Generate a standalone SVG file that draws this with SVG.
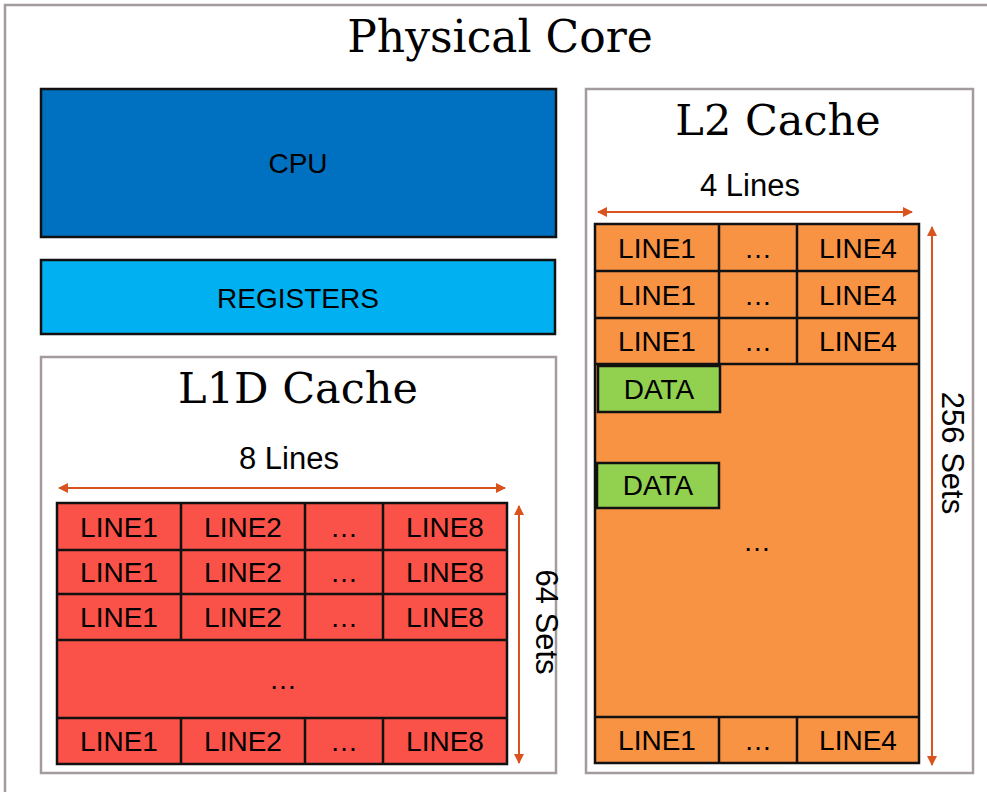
<svg xmlns="http://www.w3.org/2000/svg" width="987" height="792" viewBox="0 0 987 792">
<style>
.frame{fill:#fff;stroke:#A39B9B;stroke-width:2.5}
.box{stroke:#111;stroke-width:2.5}
.cell{stroke:#111;stroke-width:2.5}
.red{fill:#FA5248}
.org{fill:#F89344}
.grn{fill:#92D050}
.title{font-family:"DejaVu Serif","Liberation Serif",serif;font-size:43px;fill:#000;text-anchor:middle}
.t{font-family:"Liberation Sans",Arial,sans-serif;font-size:28px;fill:#000;text-anchor:middle}
.lbl{font-family:"Liberation Sans",Arial,sans-serif;font-size:31px;fill:#000;text-anchor:middle}
.arr{stroke:#D9531E;stroke-width:2;fill:none;marker-start:url(#ah);marker-end:url(#ah)}
</style>
<defs>
<marker id="ah" viewBox="0 0 10 10" refX="9" refY="5" markerWidth="6" markerHeight="5" orient="auto-start-reverse" markerUnits="strokeWidth">
<path d="M0,0 L10,5 L0,10 z" fill="#D9531E"/>
</marker>
</defs>

<g id="physical-core">
<rect class="frame" x="5" y="5" width="1010" height="810"/>
<text class="title" x="500" y="52" style="font-size:44px">Physical Core</text>
</g>

<g id="cpu">
<rect class="box" x="41" y="89" width="515" height="148" fill="#0070C0"/>
<text class="t" x="298" y="173">CPU</text>
</g>

<g id="registers">
<rect class="box" x="41" y="260" width="514" height="74" fill="#00B0F0"/>
<text class="t" x="298" y="308">REGISTERS</text>
</g>

<g id="l1d-cache">
<rect class="frame" x="41" y="357" width="515" height="416"/>
<text class="title" x="298" y="403">L1D Cache</text>
<text class="lbl" x="289" y="469">8 Lines</text>
<g id="l1d-grid">
<rect class="cell red" x="57" y="503" width="450" height="261"/>
<g class="cell" fill="none">
<line x1="57" y1="550" x2="507" y2="550"/>
<line x1="57" y1="594" x2="507" y2="594"/>
<line x1="57" y1="640" x2="507" y2="640"/>
<line x1="57" y1="718" x2="507" y2="718"/>
<line x1="181" y1="503" x2="181" y2="640"/>
<line x1="305" y1="503" x2="305" y2="640"/>
<line x1="383" y1="503" x2="383" y2="640"/>
<line x1="181" y1="718" x2="181" y2="764"/>
<line x1="305" y1="718" x2="305" y2="764"/>
<line x1="383" y1="718" x2="383" y2="764"/>
</g>
<text class="t" x="119" y="537">LINE1</text><text class="t" x="243" y="537">LINE2</text><text class="t" x="344" y="537">…</text><text class="t" x="445" y="537">LINE8</text>
<text class="t" x="119" y="582">LINE1</text><text class="t" x="243" y="582">LINE2</text><text class="t" x="344" y="582">…</text><text class="t" x="445" y="582">LINE8</text>
<text class="t" x="119" y="627">LINE1</text><text class="t" x="243" y="627">LINE2</text><text class="t" x="344" y="627">…</text><text class="t" x="445" y="627">LINE8</text>
<text class="t" x="283" y="689">…</text>
<text class="t" x="119" y="751">LINE1</text><text class="t" x="243" y="751">LINE2</text><text class="t" x="344" y="751">…</text><text class="t" x="445" y="751">LINE8</text>
</g>
<text class="lbl" transform="translate(536,622) rotate(90)">64 Sets</text>
</g>

<g id="l2-cache">
<rect class="frame" x="586" y="89" width="387" height="684"/>
<text class="title" x="778" y="135">L2 Cache</text>
<text class="lbl" x="750" y="196">4 Lines</text>
<g id="l2-grid">
<rect class="cell org" x="595" y="224" width="324" height="539"/>
<g class="cell" fill="none">
<line x1="595" y1="271" x2="919" y2="271"/>
<line x1="595" y1="318" x2="919" y2="318"/>
<line x1="595" y1="364" x2="919" y2="364"/>
<line x1="595" y1="717" x2="919" y2="717"/>
<line x1="719" y1="224" x2="719" y2="364"/>
<line x1="797" y1="224" x2="797" y2="364"/>
<line x1="719" y1="717" x2="719" y2="763"/>
<line x1="797" y1="717" x2="797" y2="763"/>
</g>
<text class="t" x="657" y="258">LINE1</text><text class="t" x="758" y="258">…</text><text class="t" x="858" y="258">LINE4</text>
<text class="t" x="657" y="305">LINE1</text><text class="t" x="758" y="305">…</text><text class="t" x="858" y="305">LINE4</text>
<text class="t" x="657" y="351">LINE1</text><text class="t" x="758" y="351">…</text><text class="t" x="858" y="351">LINE4</text>
<text class="t" x="757" y="551">…</text>
<text class="t" x="657" y="750">LINE1</text><text class="t" x="758" y="750">…</text><text class="t" x="858" y="750">LINE4</text>
</g>
<g id="data-1">
<rect class="cell grn" x="598" y="366" width="122" height="46"/>
<text class="t" x="659" y="399">DATA</text>
</g>
<g id="data-2">
<rect class="cell grn" x="597" y="463" width="122" height="45"/>
<text class="t" x="658" y="495">DATA</text>
</g>
<text class="lbl" transform="translate(942,453) rotate(90)">256 Sets</text>
</g>

<g id="connectors">
<line class="arr" x1="59" y1="488" x2="505" y2="488"/>
<line class="arr" x1="519" y1="506" x2="519" y2="763"/>
<line class="arr" x1="598" y1="212" x2="912" y2="212"/>
<line class="arr" x1="932" y1="227" x2="932" y2="765"/>
</g>
</svg>
